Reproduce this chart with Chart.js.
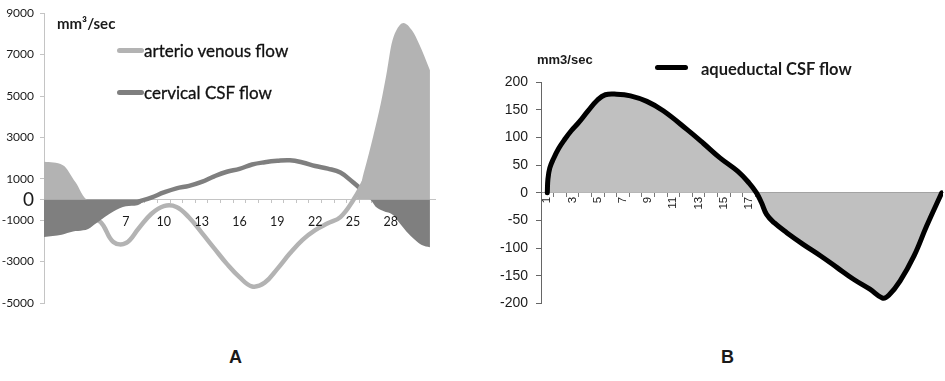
<!DOCTYPE html>
<html>
<head>
<meta charset="utf-8">
<script src="https://cdn.jsdelivr.net/npm/chart.js@4.4.1/dist/chart.umd.min.js"></script>
<style>
  body { margin: 0; background: #fff; }
  #page { position: relative; width: 945px; height: 381px; overflow: hidden; }
  .box { position: absolute; }
  .lbl { position: absolute; white-space: nowrap; color: #1a1a1a; line-height: 1; }
  .key { position: absolute; height: 5px; border-radius: 3px; }
</style>
</head>
<body>
<div id="page">
  <div class="box" style="left:0;top:0;width:470px;height:320px"><canvas id="chartA"></canvas></div>
  <div class="box" style="left:480px;top:0;width:465px;height:320px"><canvas id="chartB"></canvas></div>

  <!-- panel A labels -->
  <div class="lbl" style="left:57px;top:14px;font:bold 15px Lato">mm³/sec</div>
  <div class="key" style="left:117px;top:48px;width:27px;background:#b3b3b3"></div>
  <div class="lbl" style="left:144px;top:40px;font:17px Lato;color:#111;-webkit-text-stroke:0.3px #111">arterio venous flow</div>
  <div class="key" style="left:117px;top:90px;width:27px;background:#7f7f7f"></div>
  <div class="lbl" style="left:144px;top:82px;font:17px Lato;color:#111;-webkit-text-stroke:0.3px #111">cervical CSF flow</div>

  <!-- panel B labels -->
  <div class="lbl" style="left:537px;top:52px;font:bold 13px 'Liberation Sans'">mm3/sec</div>
  <div class="key" style="left:655px;top:65px;width:33px;background:#000"></div>
  <div class="lbl" style="left:701px;top:59px;font:bold 16.5px Lato">aqueductal CSF flow</div>

  <div class="lbl" style="left:229px;top:347px;font:bold 18px 'Liberation Sans'">A</div>
  <div class="lbl" style="left:721px;top:347px;font:bold 18px 'Liberation Sans'">B</div>
</div>

<script>
// ---------- panel A : cervical flows ----------
var catsA = [];
for (var i = 1; i <= 31; i++) catsA.push(i);
var shownA = [7, 10, 13, 16, 19, 22, 25, 28];
var yTicksA = [-5000, -3000, -1000, 0, 1000, 3000, 5000, 7000, 9000];

// light grey area (arterial) and dark grey area (venous), x in category units
var arterialX = [0.5, 2.0, 3.0, 3.95, 25.2, 25.9, 26.6, 27.2, 27.7, 28.05, 28.4, 29.0, 29.7, 30.25, 31.1];
var arterialY = [1820, 1660, 830, 0, 0, 1400, 3060, 4640, 6230, 7500, 8130, 8530, 8150, 7500, 6250];
var venousX = [0.5, 1.9, 2.8, 3.6, 4.0, 4.7, 6.0, 7.0, 7.9, 8.8, 26.3, 26.85, 27.4, 28.2, 28.7, 29.25, 29.9, 30.45, 31.1];
var venousY = [-1810, -1700, -1550, -1490, -1420, -1120, -580, -330, -280, 0, 0, -380, -560, -760, -1150, -1560, -1950, -2200, -2310];

// lines
var avCats = [4, 5, 6, 7, 8, 9, 10, 11, 12, 13, 14, 15, 16, 17, 18, 19, 20, 21, 22, 23, 24, 25, 26];
var avFlow = [-850, -1100, -2050, -2100, -1400, -700, -320, -360, -870, -1600, -2360, -3110, -3750, -4200, -4020, -3350, -2600, -1950, -1480, -1150, -850, -50, 1000];
var csfCats = [8, 9, 10, 11, 12, 13, 14, 15, 16, 17, 18, 19, 20, 21, 22, 23, 24, 25, 26];
var csfFlow = [-100, 90, 340, 540, 660, 850, 1120, 1340, 1480, 1690, 1800, 1870, 1895, 1790, 1620, 1490, 1300, 830, 300];

// ---------- panel B : aqueductal flow ----------
var ticksB = [1, 3, 5, 7, 9, 11, 13, 15, 17];
var aqX = [1, 1.05, 1.2, 1.5, 1.9, 2.4, 2.9, 3.5, 4.2, 5.0, 5.6, 6.5, 7.6, 8.9, 10.2, 12.1, 13.4, 14.7, 16.1, 17.0, 17.6, 18.0, 18.4, 19.0, 20.0, 21.3, 22.7, 24.0, 25.3, 26.6, 27.6, 28.1, 29.0, 30.1, 31.1, 32.3];
var aqY = [0, 25, 45, 62, 80, 97, 112, 127, 147, 168, 177, 178, 175, 165, 148, 114, 89, 63, 39, 18, 0, -18, -39, -54, -72, -93, -114, -135, -156, -174, -190, -185, -159, -114, -60, 0];

var lightGrey = '#b3b3b3';
var darkGrey = '#7f7f7f';

function pts(xs, ys) {
  return xs.map(function (x, i) { return { x: x, y: ys[i] }; });
}
function boundaries(n) {
  var out = [];
  for (var k = 1; k < n; k++) out.push({ value: k + 0.5 });
  return out;
}

new Chart(document.getElementById('chartA'), {
  type: 'line',
  data: {
    datasets: [
      { label: 'arterial', data: pts(arterialX, arterialY), fill: 'origin', backgroundColor: lightGrey,
        borderWidth: 0, pointRadius: 0, order: 0, cubicInterpolationMode: 'monotone' },
      { label: 'venous', data: pts(venousX, venousY), fill: 'origin', backgroundColor: darkGrey,
        borderWidth: 0, pointRadius: 0, order: 0, cubicInterpolationMode: 'monotone' },
      { label: 'arterio venous flow', data: pts(avCats, avFlow), borderColor: lightGrey, borderWidth: 4.5,
        pointRadius: 0, fill: false, order: 1, tension: 0.4, borderCapStyle: 'round' },
      { label: 'cervical CSF flow', data: pts(csfCats, csfFlow), borderColor: darkGrey, borderWidth: 4.5,
        pointRadius: 0, fill: false, order: 1, tension: 0.4, borderCapStyle: 'round' }
    ]
  },
  options: {
    responsive: true,
    maintainAspectRatio: false,
    animation: false,
    layout: { padding: { left: 0, top: 8, right: 35, bottom: 17 } },
    plugins: { legend: { display: false }, tooltip: { enabled: false } },
    scales: {
      x: {
        type: 'linear', min: 0.5, max: 31.5, position: { y: 0 },
        afterBuildTicks: function (s) { s.ticks = catsA.map(function (v) { return { value: v }; }); },
        grid: { display: false, drawTicks: false },
        border: { display: true, color: '#c4c4c4' },
        ticks: {
          z: 1, autoSkip: false, maxRotation: 0, padding: 15, color: '#1a1a1a',
          font: { family: 'Lato', size: 12.5 },
          callback: function (v) { return shownA.indexOf(v) >= 0 ? String(v) : ''; }
        }
      },
      xt: {
        type: 'linear', axis: 'x', min: 0.5, max: 31.5, position: { y: 0 },
        afterBuildTicks: function (s) { s.ticks = boundaries(31); },
        grid: { drawOnChartArea: false, tickLength: 4, color: '#c4c4c4' },
        border: { display: false },
        ticks: { display: false }
      },
      y: {
        min: -5000, max: 9000,
        afterBuildTicks: function (s) { s.ticks = yTicksA.map(function (v) { return { value: v }; }); },
        afterFit: function (s) { s.width = 44; },
        grid: { drawOnChartArea: false, tickLength: 4, color: '#c4c4c4' },
        border: { color: '#c4c4c4' },
        ticks: {
          padding: 6, color: '#1a1a1a',
          font: function (c) { return { family: 'Lato', size: (c.tick && c.tick.value === 0) ? 19 : 12 }; },
          callback: function (v) { return String(v); }
        }
      }
    }
  }
});

new Chart(document.getElementById('chartB'), {
  type: 'line',
  data: {
    datasets: [
      { label: 'aqueductal CSF flow', data: pts(aqX, aqY), fill: 'origin', backgroundColor: '#c0c0c0',
        borderColor: '#000', borderWidth: 5, pointRadius: 0, tension: 0.4,
        borderCapStyle: 'round', borderJoinStyle: 'round' }
    ]
  },
  options: {
    responsive: true,
    maintainAspectRatio: false,
    animation: false,
    layout: { padding: { left: 0, top: 82, right: 2, bottom: 16 } },
    plugins: { legend: { display: false }, tooltip: { enabled: false } },
    scales: {
      x: {
        type: 'linear', min: 0.5, max: 32.4, position: { y: 0 },
        afterBuildTicks: function (s) { s.ticks = ticksB.map(function (v) { return { value: v }; }); },
        grid: { display: false, drawTicks: false },
        border: { display: true, color: '#9a9a9a' },
        ticks: {
          autoSkip: false, minRotation: 90, maxRotation: 90, padding: 4, color: '#1a1a1a',
          font: { family: 'Liberation Sans', size: 11.5 }
        }
      },
      xt: {
        type: 'linear', axis: 'x', min: 0.5, max: 32.4, position: { y: 0 },
        afterBuildTicks: function (s) { s.ticks = boundaries(32); },
        grid: { drawOnChartArea: false, tickLength: 4, color: '#777' },
        border: { display: false },
        ticks: { display: false }
      },
      y: {
        min: -200, max: 200,
        ticks: { stepSize: 50, padding: 8, color: '#1a1a1a', font: { family: 'Liberation Sans', size: 14 } },
        afterFit: function (s) { s.width = 61; },
        grid: { drawOnChartArea: false, tickLength: 5, color: '#666' },
        border: { color: '#666' }
      }
    }
  }
});
</script>
</body>
</html>
